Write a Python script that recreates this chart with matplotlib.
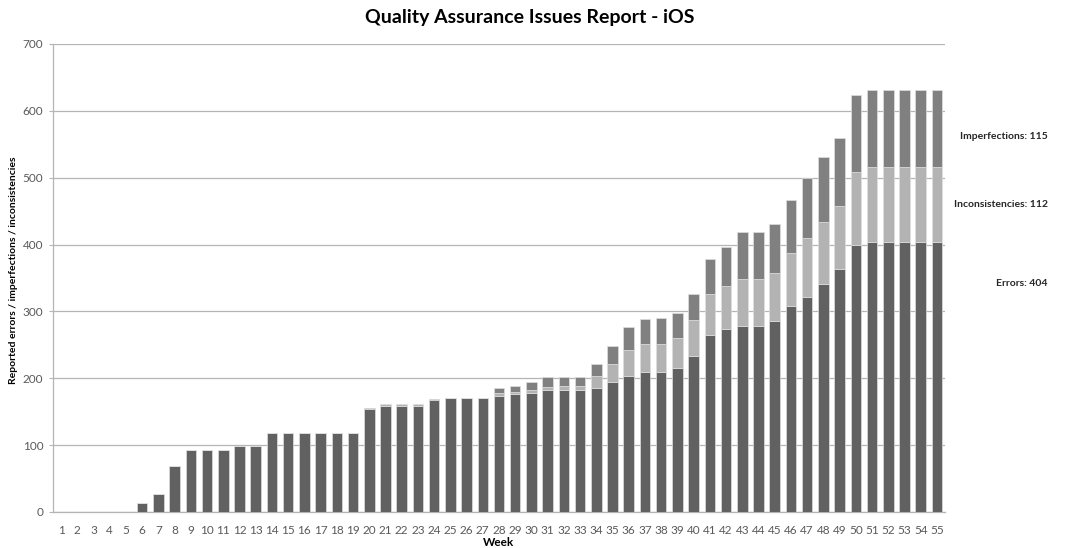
import matplotlib
matplotlib.use("Agg")
import matplotlib.pyplot as plt
import matplotlib.transforms as mtransforms
import numpy as np

weeks = list(range(1, 56))
errors = [0, 0, 0, 0, 0, 14, 27, 69, 93, 93,
          93, 98, 98, 118, 118, 118, 118, 118, 118, 154,
          159, 159, 159, 167, 170, 170, 170, 174, 176, 178,
          182, 182, 182, 186, 194, 203, 210, 210, 215, 234,
          265, 274, 278, 278, 285, 308, 322, 341, 363, 400,
          404, 404, 404, 404, 404]
inconsistencies = [0, 0, 0, 0, 0, 0, 0, 0, 0, 0,
                   0, 0, 0, 0, 0, 0, 0, 0, 0, 0,
                   2, 2, 2, 1, 0, 0, 0, 4, 3, 5,
                   5, 7, 7, 17, 27, 39, 42, 42, 45, 53,
                   61, 64, 70, 70, 72, 79, 88, 93, 94, 109,
                   112, 112, 112, 112, 112]
imperfections = [0, 0, 0, 0, 0, 0, 0, 0, 0, 0,
                 0, 0, 0, 0, 0, 0, 0, 0, 0, 1,
                 1, 1, 1, 1, 1, 1, 1, 8, 9, 11,
                 15, 13, 13, 19, 28, 35, 37, 38, 38, 39,
                 52, 58, 71, 71, 74, 80, 90, 97, 102, 114,
                 115, 115, 115, 115, 115]
series_labels = ["Errors", "Inconsistencies", "Imperfections"]
label_positions = [342, 460, 561]

title = "Quality Assurance Issues Report - iOS"
xlabel = "Week"
ylabel = "Reported errors / imperfections / inconsistencies"

font = ["Lato", "DejaVu Sans"]
plt.rcParams['font.family'] = font

fig = plt.figure(figsize=(10.65, 5.48), dpi=100)
ax = fig.add_axes([53/1065, 36/548, (945-53)/1065, (512-44)/548])

c_err = "#616161"
c_inc = "#b3b3b3"
c_imp = "#808080"
x = np.array(weeks)
e = np.array(errors)
i = np.array(inconsistencies)
m = np.array(imperfections)
w = 0.65
kw = dict(width=w, edgecolor="#dedede", linewidth=0.5, zorder=3)
ax.bar(x, e, color=c_err, **kw)
ax.bar(x, i, bottom=e, color=c_inc, **kw)
ax.bar(x, m, bottom=e + i, color=c_imp, **kw)

ax.set_xlim(0.5, 55.5)
ax.set_ylim(0, 700)
ax.set_yticks(range(0, 701, 100))
ax.set_xticks(x)
ax.set_xticklabels([str(v) for v in weeks])
ax.yaxis.grid(True, color="#b5b5b5", linewidth=0.9, zorder=0)
ax.set_axisbelow(True)
for s in ["top", "right"]:
    ax.spines[s].set_visible(False)
for s in ["left", "bottom"]:
    ax.spines[s].set_color("#b5b5b5")
    ax.spines[s].set_linewidth(0.9)
ax.tick_params(axis="y", length=3, color="#b5b5b5", labelsize=8.5, labelcolor="#595959", pad=4)
ax.tick_params(axis="x", length=0, labelsize=8.5, labelcolor="#595959", pad=9)

fig.text(530/1065, 1 - 18/548, title, fontsize=14, fontweight="bold", ha="center", va="center", color="#000000")
fig.text(499/1065, 1 - 543/548, xlabel, fontsize=8.5, fontweight="bold", ha="center", va="center")
fig.text(14/1065, 1 - 270/548, ylabel, fontsize=7.5, fontweight="bold", ha="center", va="center", rotation=90)

trans = mtransforms.blended_transform_factory(fig.transFigure, ax.transData)
totals = [errors[-1], inconsistencies[-1], imperfections[-1]]
for lab, val, ypos in zip(series_labels, totals, label_positions):
    ax.text(1048/1065, ypos, f"{lab}: {val}", transform=trans, ha="right", va="center",
            fontsize=7.5, fontweight="bold", color="#262626")

fig.savefig("out.png", dpi=100)
